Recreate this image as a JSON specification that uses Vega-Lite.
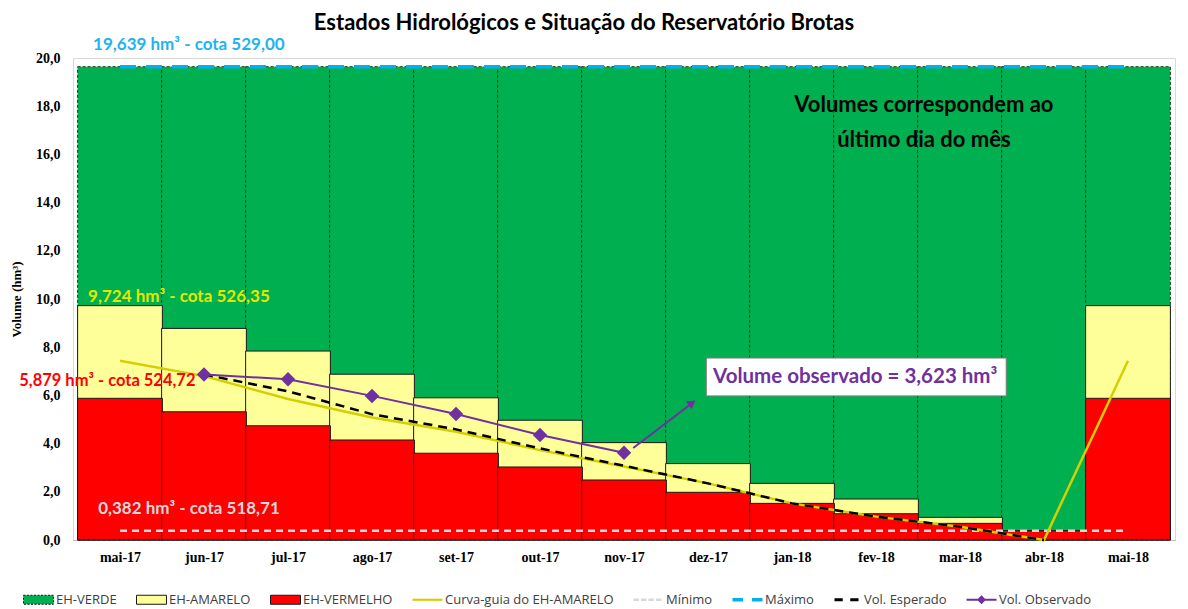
{
  "$schema": "https://vega.github.io/schema/vega-lite/v6.json",
  "width": 1102,
  "height": 482,
  "autosize": {"type": "none"},
  "padding": {"left": 73, "top": 58, "right": 13, "bottom": 69},
  "background": "white",
  "title": {"text": "Estados Hidrológicos e Situação do Reservatório Brotas", "font": "Lato", "fontSize": 22, "fontWeight": "bold", "color": "#000000", "anchor": "middle", "dx": -40, "offset": 1},
  "config": {"view": {"stroke": "#d9d9d9"}},
  "datasets": {
    "meses": [
      {"i": 0, "mes": "mai-17", "vermelho": 5.879, "amarelo": 9.724, "verde": 19.639, "maximo": 19.639, "minimo": 0.382, "guia": 7.44, "esperado": null, "observado": null},
      {"i": 1, "mes": "jun-17", "vermelho": 5.32, "amarelo": 8.78, "verde": 19.639, "maximo": 19.639, "minimo": 0.382, "guia": 6.80, "esperado": 6.87, "observado": 6.87},
      {"i": 2, "mes": "jul-17", "vermelho": 4.74, "amarelo": 7.84, "verde": 19.639, "maximo": 19.639, "minimo": 0.382, "guia": 5.85, "esperado": 6.17, "observado": 6.67},
      {"i": 3, "mes": "ago-17", "vermelho": 4.15, "amarelo": 6.88, "verde": 19.639, "maximo": 19.639, "minimo": 0.382, "guia": 5.08, "esperado": 5.22, "observado": 5.98},
      {"i": 4, "mes": "set-17", "vermelho": 3.60, "amarelo": 5.90, "verde": 19.639, "maximo": 19.639, "minimo": 0.382, "guia": 4.49, "esperado": 4.59, "observado": 5.23},
      {"i": 5, "mes": "out-17", "vermelho": 3.03, "amarelo": 4.97, "verde": 19.639, "maximo": 19.639, "minimo": 0.382, "guia": 3.73, "esperado": 3.80, "observado": 4.36},
      {"i": 6, "mes": "nov-17", "vermelho": 2.49, "amarelo": 4.04, "verde": 19.639, "maximo": 19.639, "minimo": 0.382, "guia": 3.05, "esperado": 3.08, "observado": 3.623},
      {"i": 7, "mes": "dez-17", "vermelho": 1.98, "amarelo": 3.17, "verde": 19.639, "maximo": 19.639, "minimo": 0.382, "guia": 2.35, "esperado": 2.35, "observado": null},
      {"i": 8, "mes": "jan-18", "vermelho": 1.52, "amarelo": 2.35, "verde": 19.639, "maximo": 19.639, "minimo": 0.382, "guia": 1.52, "esperado": 1.52, "observado": null},
      {"i": 9, "mes": "fev-18", "vermelho": 1.09, "amarelo": 1.70, "verde": 19.639, "maximo": 19.639, "minimo": 0.382, "guia": 0.97, "esperado": 0.97, "observado": null},
      {"i": 10, "mes": "mar-18", "vermelho": 0.69, "amarelo": 0.94, "verde": 19.639, "maximo": 19.639, "minimo": 0.382, "guia": 0.55, "esperado": 0.55, "observado": null},
      {"i": 11, "mes": "abr-18", "vermelho": 0.382, "amarelo": 0.382, "verde": 19.639, "maximo": 19.639, "minimo": 0.382, "guia": 0.0, "esperado": 0.0, "observado": null},
      {"i": 12, "mes": "mai-18", "vermelho": 5.879, "amarelo": 9.724, "verde": 19.639, "maximo": 19.639, "minimo": 0.382, "guia": 7.44, "esperado": null, "observado": null}
    ],
    "seta": [
      {"x": 6.11, "y": 3.82},
      {"x": 6.84, "y": 5.76}
    ],
    "legenda": [
      {"serie": "EH-VERDE"}, {"serie": "EH-AMARELO"}, {"serie": "EH-VERMELHO"}, {"serie": "Curva-guia do EH-AMARELO"},
      {"serie": "Mínimo"}, {"serie": "Máximo"}, {"serie": "Vol. Esperado"}, {"serie": "Vol. Observado"}
    ]
  },
  "layer": [
    {
      "data": {"name": "meses"},
      "mark": {"type": "bar", "orient": "vertical", "width": 84.77, "fill": "#00B050", "stroke": "#1c3d1c", "strokeWidth": 1, "strokeDash": [3, 2]},
      "encoding": {
        "x": {"field": "i", "type": "quantitative", "scale": {"domain": [-0.5, 12.5], "nice": false, "zero": false},
          "axis": {"values": [0,1,2,3,4,5,6,7,8,9,10,11,12], "labelExpr": "['mai-17','jun-17','jul-17','ago-17','set-17','out-17','nov-17','dez-17','jan-18','fev-18','mar-18','abr-18','mai-18'][datum.value]", "title": null, "grid": false, "ticks": false, "domainColor": "#bfbfbf", "labelFont": "Liberation Serif", "labelFontSize": 14, "labelFontWeight": "bold", "labelColor": "#000000", "labelPadding": 10}},
        "y": {"field": "verde", "type": "quantitative", "scale": {"domain": [0, 20], "nice": false},
          "axis": {"values": [0,2,4,6,8,10,12,14,16,18,20], "labelExpr": "replace(format(datum.value, '.1f'), '.', ',')", "title": "Volume (hm³)", "grid": false, "ticks": false, "domain": false, "labelFont": "Liberation Serif", "labelFontSize": 14, "labelFontWeight": "bold", "labelColor": "#000000", "labelPadding": 13, "titleFont": "Liberation Serif", "titleFontSize": 13, "titleFontWeight": "bold", "titleColor": "#000000", "titlePadding": 12}}
      }
    },
    {
      "data": {"name": "meses"},
      "mark": {"type": "bar", "orient": "vertical", "width": 84.77, "fill": "#FFFF99", "stroke": "#1a1a1a", "strokeWidth": 1},
      "encoding": {
        "x": {"field": "i", "type": "quantitative"},
        "y": {"field": "amarelo", "type": "quantitative"}
      }
    },
    {
      "data": {"name": "meses"},
      "mark": {"type": "bar", "orient": "vertical", "width": 84.77, "fill": "#FF0000", "stroke": "#1a1a1a", "strokeWidth": 1},
      "encoding": {
        "x": {"field": "i", "type": "quantitative"},
        "y": {"field": "vermelho", "type": "quantitative"}
      }
    },
    {
      "data": {"name": "meses"},
      "mark": {"type": "line", "color": "#D9D9D9", "strokeWidth": 2.5, "strokeDash": [7, 5]},
      "encoding": {
        "x": {"field": "i", "type": "quantitative"},
        "y": {"field": "minimo", "type": "quantitative"}
      }
    },
    {
      "data": {"name": "meses"},
      "mark": {"type": "line", "color": "#00B0F0", "strokeWidth": 3.5, "strokeDash": [16, 10]},
      "encoding": {
        "x": {"field": "i", "type": "quantitative"},
        "y": {"field": "maximo", "type": "quantitative"}
      }
    },
    {
      "data": {"name": "meses"},
      "mark": {"type": "line", "color": "#D4D000", "strokeWidth": 2.5},
      "encoding": {
        "x": {"field": "i", "type": "quantitative"},
        "y": {"field": "guia", "type": "quantitative"}
      }
    },
    {
      "data": {"name": "meses"},
      "transform": [{"filter": "isValid(datum.esperado)"}],
      "mark": {"type": "line", "color": "#000000", "strokeWidth": 2.5, "strokeDash": [9, 6]},
      "encoding": {
        "x": {"field": "i", "type": "quantitative"},
        "y": {"field": "esperado", "type": "quantitative"}
      }
    },
    {
      "data": {"name": "meses"},
      "transform": [{"filter": "isValid(datum.observado)"}],
      "mark": {"type": "line", "color": "#7030A0", "strokeWidth": 2, "point": {"shape": "diamond", "size": 210, "filled": true, "color": "#7030A0"}},
      "encoding": {
        "x": {"field": "i", "type": "quantitative"},
        "y": {"field": "observado", "type": "quantitative"}
      }
    },
    {
      "data": {"name": "seta"},
      "mark": {"type": "line", "color": "#7030A0", "strokeWidth": 2},
      "encoding": {
        "x": {"field": "x", "type": "quantitative"},
        "y": {"field": "y", "type": "quantitative"}
      }
    },
    {
      "data": {"values": [{"x": 6.81, "y": 5.69}]},
      "mark": {"type": "point", "shape": "triangle-up", "filled": true, "color": "#7030A0", "opacity": 1, "size": 90, "angle": 53},
      "encoding": {
        "x": {"field": "x", "type": "quantitative"},
        "y": {"field": "y", "type": "quantitative"}
      }
    },
    {
      "data": {"values": [{"x1": 6.98, "x2": 10.55, "y1": 5.98, "y2": 7.55}]},
      "mark": {"type": "rect", "fill": "#ffffff", "stroke": "#7f7f7f", "strokeWidth": 1},
      "encoding": {
        "x": {"field": "x1", "type": "quantitative"},
        "x2": {"field": "x2"},
        "y": {"field": "y1", "type": "quantitative"},
        "y2": {"field": "y2"}
      }
    },
    {
      "data": {"values": [{"x": 7.06, "y": 6.76, "texto": "Volume observado = 3,623 hm³"}]},
      "mark": {"type": "text", "align": "left", "baseline": "middle", "font": "Lato", "fontSize": 20.5, "fontWeight": "bold", "color": "#7030A0"},
      "encoding": {
        "x": {"field": "x", "type": "quantitative"},
        "y": {"field": "y", "type": "quantitative"},
        "text": {"field": "texto"}
      }
    },
    {
      "data": {"values": [{"x": -0.32, "y": 20.54, "texto": "19,639 hm³ - cota 529,00"}]},
      "mark": {"type": "text", "align": "left", "baseline": "middle", "font": "Lato", "fontSize": 17, "fontWeight": "bold", "color": "#1FB4F0", "clip": false},
      "encoding": {
        "x": {"field": "x", "type": "quantitative"},
        "y": {"field": "y", "type": "quantitative"},
        "text": {"field": "texto"}
      }
    },
    {
      "data": {"values": [{"x": -0.38, "y": 10.08, "texto": "9,724 hm³ - cota 526,35"}]},
      "mark": {"type": "text", "align": "left", "baseline": "middle", "font": "Lato", "fontSize": 17, "fontWeight": "bold", "color": "#E6E600"},
      "encoding": {
        "x": {"field": "x", "type": "quantitative"},
        "y": {"field": "y", "type": "quantitative"},
        "text": {"field": "texto"}
      }
    },
    {
      "data": {"values": [{"x": -1.2, "y": 6.6, "texto": "5,879 hm³ - cota 524,72"}]},
      "mark": {"type": "text", "align": "left", "baseline": "middle", "font": "Lato", "fontSize": 16.5, "fontWeight": "bold", "color": "#FF0000"},
      "encoding": {
        "x": {"field": "x", "type": "quantitative"},
        "y": {"field": "y", "type": "quantitative"},
        "text": {"field": "texto"}
      }
    },
    {
      "data": {"values": [{"x": -0.26, "y": 1.29, "texto": "0,382 hm³ - cota 518,71"}]},
      "mark": {"type": "text", "align": "left", "baseline": "middle", "font": "Lato", "fontSize": 17, "fontWeight": "bold", "color": "#D9D9D9"},
      "encoding": {
        "x": {"field": "x", "type": "quantitative"},
        "y": {"field": "y", "type": "quantitative"},
        "text": {"field": "texto"}
      }
    },
    {
      "data": {"values": [{"x": 9.57, "y": 18.05, "texto": "Volumes correspondem ao"}, {"x": 9.57, "y": 16.6, "texto": "último dia do mês"}]},
      "mark": {"type": "text", "align": "center", "baseline": "middle", "font": "Lato", "fontSize": 22, "fontWeight": "bold", "color": "#000000"},
      "encoding": {
        "x": {"field": "x", "type": "quantitative"},
        "y": {"field": "y", "type": "quantitative"},
        "text": {"field": "texto"}
      }
    },
    {
      "data": {"name": "legenda"},
      "mark": {"type": "point", "filled": true, "opacity": 0},
      "encoding": {
        "color": {"field": "serie", "type": "nominal",
          "scale": {"domain": ["EH-VERDE", "EH-AMARELO", "EH-VERMELHO", "Curva-guia do EH-AMARELO", "Mínimo", "Máximo", "Vol. Esperado", "Vol. Observado"],
            "range": ["#00B050", "#FFFF99", "#FF0000", "#D4D000", "#D9D9D9", "#00B0F0", "#000000", "#7030A0"]},
          "legend": {"orient": "none", "legendX": -50, "legendY": 526, "direction": "horizontal", "title": null, "symbolSize": 900, "symbolOpacity": 1, "symbolStrokeWidth": 1, "labelFont": "Open Sans", "labelFontSize": 13, "labelColor": "#404040", "labelOffset": 2, "columnPadding": 17, "labelLimit": 400,
            "encode": {"symbols": {"update": {"opacity": {"value": 1}, "stroke": {"signal": "indexof(['EH-VERDE','EH-AMARELO','EH-VERMELHO'], datum.value) >= 0 ? '#1a1a1a' : 'transparent'"}, "strokeDash": {"signal": "datum.value === 'EH-VERDE' ? [2, 1.5] : []"}, "strokeWidth": {"value": 1}}}}}},
        "shape": {"field": "serie", "type": "nominal",
          "scale": {"domain": ["EH-VERDE", "EH-AMARELO", "EH-VERMELHO", "Curva-guia do EH-AMARELO", "Mínimo", "Máximo", "Vol. Esperado", "Vol. Observado"],
            "range": [
              "M-1,-0.3H1V0.3H-1Z",
              "M-1,-0.3H1V0.3H-1Z",
              "M-1,-0.3H1V0.3H-1Z",
              "M-1,-0.07H1V0.07H-1Z",
              "M-1,-0.08H-0.64V0.08H-1Z M-0.5,-0.08H-0.14V0.08H-0.5Z M0,-0.08H0.36V0.08H0Z M0.5,-0.08H0.86V0.08H0.5Z",
              "M-1,-0.12H-0.3V0.12H-1Z M0.3,-0.12H1V0.12H0.3Z",
              "M-0.8,-0.1H-0.25V0.1H-0.8Z M0.25,-0.1H0.8V0.1H0.25Z",
              "M-1,-0.07H1V0.07H-1Z M0,-0.3L0.3,0L0,0.3L-0.3,0Z"
            ]}}
      }
    }
  ]
}
